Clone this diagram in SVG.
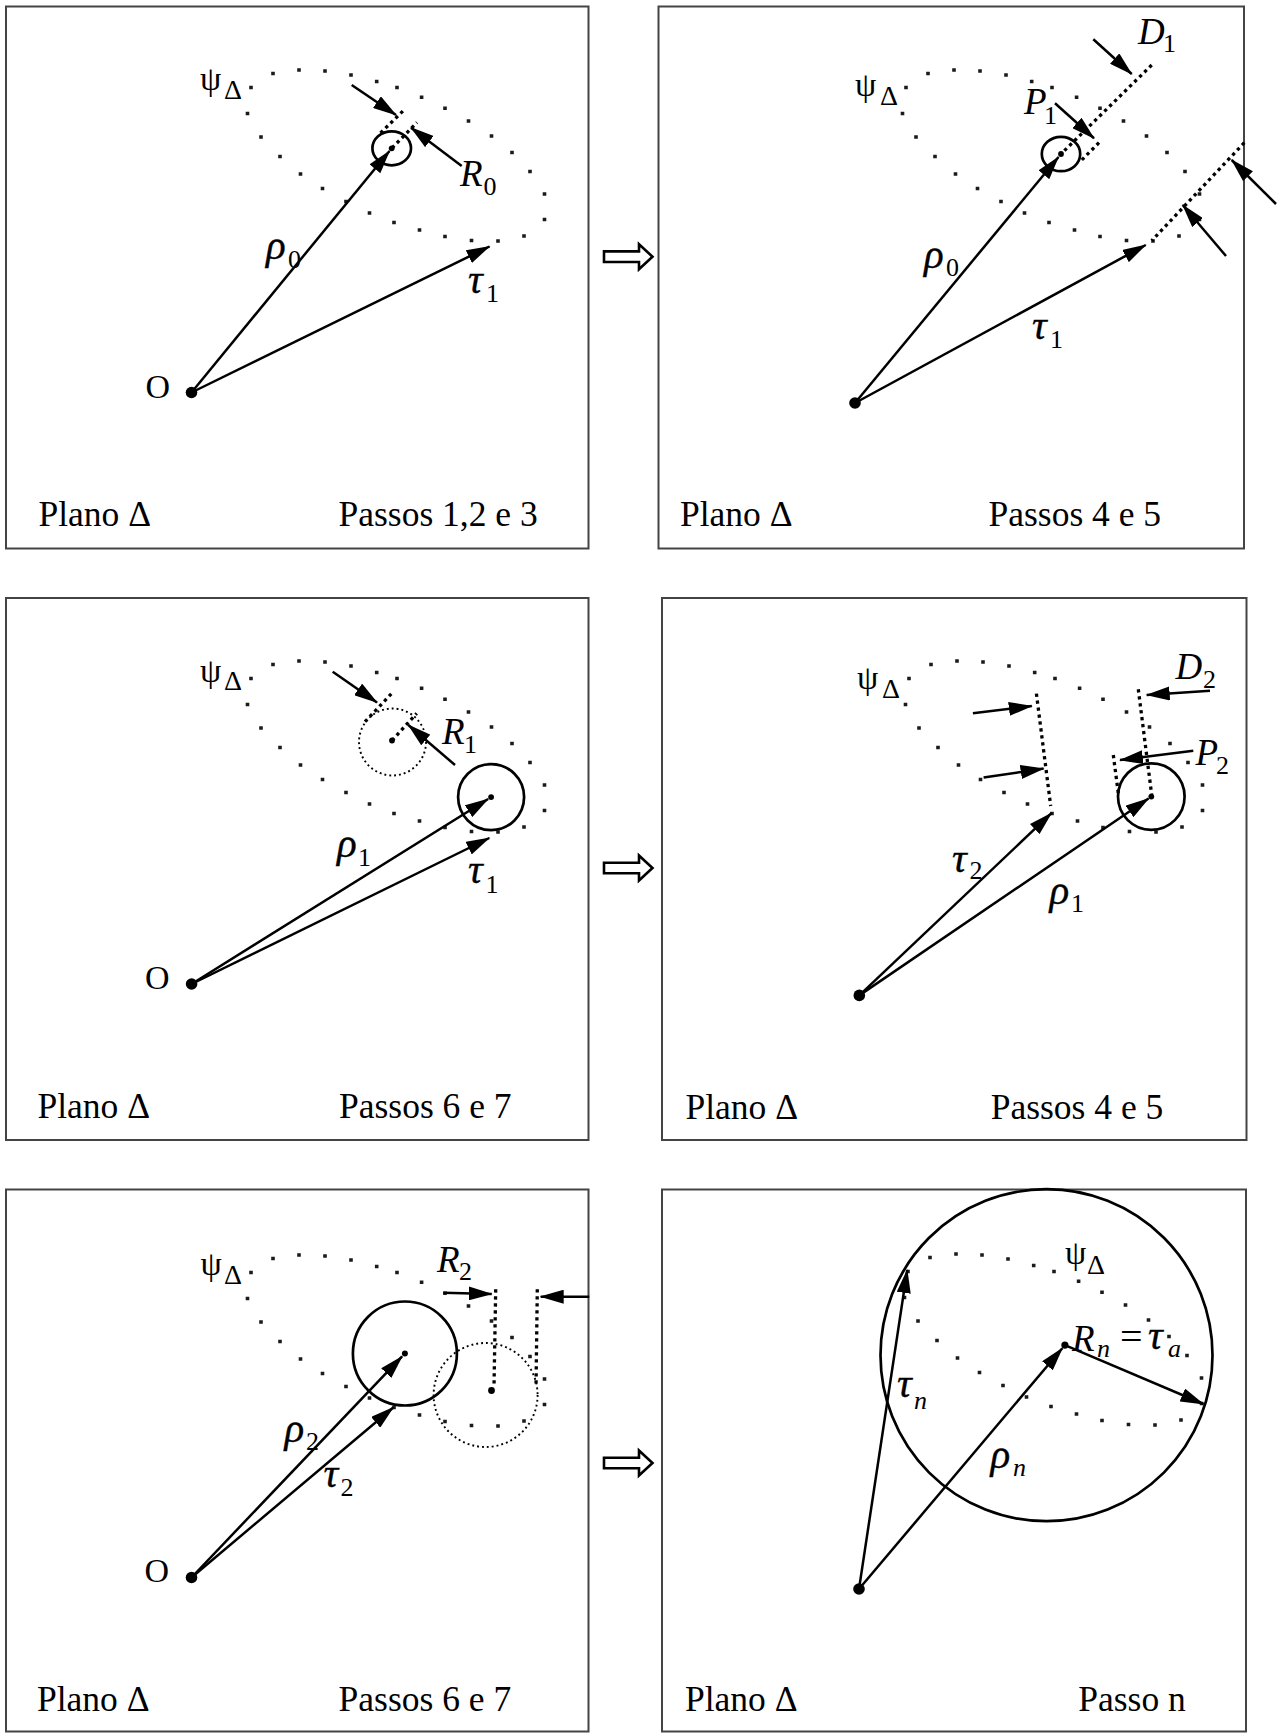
<svg xmlns="http://www.w3.org/2000/svg" width="1278" height="1733" viewBox="0 0 1278 1733">
<style>
.frame{fill:none;stroke:#444;stroke-width:2}
.vec{fill:none;stroke:#000;stroke-width:2.5;marker-end:url(#ah)}
.circ{fill:none;stroke:#000;stroke-width:2.7}
.dcirc{fill:none;stroke:#000;stroke-width:1.9;stroke-dasharray:1.9 3}
.dl{fill:none;stroke:#000;stroke-width:3.3;stroke-dasharray:3.3 3.7}
.dot{fill:#000}
.psi{fill:#1a1a1a}
text{font-family:"Liberation Serif","Times New Roman",serif;fill:#000}
.cap{font-size:35.5px}
.o{font-size:34px}
.it{font-size:37px;font-style:italic}
.gr{font-size:41px;font-style:italic;stroke:#000;stroke-width:0.35}
.sub{font-size:26px;font-style:normal;stroke:none}
.subi{font-size:26px;font-style:italic;stroke:none}
.ps{font-size:34px;font-style:normal}
.dd{font-size:28px;font-style:normal}
.eq{font-size:40px;font-style:normal;stroke:none}
.hollow{fill:#fff;stroke:#000;stroke-width:2.6;stroke-linejoin:miter}
</style>
<defs>
<marker id="ah" viewBox="0 0 24 14" refX="23" refY="7" markerWidth="24" markerHeight="14" markerUnits="userSpaceOnUse" orient="auto">
<path d="M0,0 L24,7 L0,14 Z" fill="#000"/>
</marker>
<path id="psi" class="psi" d="M249.2,85.7h3.6v3.6h-3.6z M271.2,71.7h3.6v3.6h-3.6z M297.2,68.2h3.6v3.6h-3.6z M323.2,69.2h3.6v3.6h-3.6z M349.2,73.2h3.6v3.6h-3.6z M374.9,79.7h3.6v3.6h-3.6z M395.2,85.7h3.6v3.6h-3.6z M419.8,95.5h3.6v3.6h-3.6z M443.2,106.5h3.6v3.6h-3.6z M466.7,119.2h3.6v3.6h-3.6z M489.7,134.2h3.6v3.6h-3.6z M510.2,150.7h3.6v3.6h-3.6z M528.2,169.7h3.6v3.6h-3.6z M542.7,192.2h3.6v3.6h-3.6z M542.7,217.7h3.6v3.6h-3.6z M522.2,234.2h3.6v3.6h-3.6z M496.2,239.2h3.6v3.6h-3.6z M469.7,238.7h3.6v3.6h-3.6z M443.2,234.7h3.6v3.6h-3.6z M417.7,228.2h3.6v3.6h-3.6z M392.2,220.7h3.6v3.6h-3.6z M367.7,211.2h3.6v3.6h-3.6z M344.2,199.7h3.6v3.6h-3.6z M320.7,186.7h3.6v3.6h-3.6z M298.7,172.2h3.6v3.6h-3.6z M278.2,154.7h3.6v3.6h-3.6z M259.2,135.2h3.6v3.6h-3.6z M245.7,111.7h3.6v3.6h-3.6z"/>
</defs>
<rect width="1278" height="1733" fill="#fff"/>

<g id="panel1">
<rect class="frame" x="6" y="6.5" width="582.5" height="542"/>
<use href="#psi"/>
<text class="ps" x="200" y="90">ψ</text><text class="dd" x="224" y="98.5">Δ</text>
<ellipse class="circ" cx="391.7" cy="148.3" rx="19.3" ry="17"/>
<circle class="dot" cx="391.7" cy="148.3" r="2.9"/>
<line class="dl" x1="380.5" y1="133" x2="404" y2="110"/>
<line class="dl" x1="392" y1="148" x2="417" y2="122.5"/>
<line class="vec" x1="351.7" y1="85" x2="396" y2="115"/>
<line class="vec" x1="461.7" y1="166" x2="411" y2="127.7"/>
<line class="vec" x1="191.5" y1="392.5" x2="389.5" y2="151"/>
<line class="vec" x1="191.5" y1="392.5" x2="489.5" y2="246.5"/>
<circle class="dot" cx="191.5" cy="392.5" r="5.8"/>
<text class="o" x="145.5" y="397.5">O</text>
<text class="it"><tspan x="460" y="186">R</tspan><tspan class="sub" x="483.5" y="195">0</tspan></text>
<text class="gr"><tspan x="468" y="293">τ</tspan><tspan class="sub" x="486" y="302">1</tspan></text>
<text class="gr"><tspan x="266" y="259">ρ</tspan><tspan class="sub" x="288" y="268">0</tspan></text>
<text class="cap" x="38.5" y="526">Plano Δ</text>
<text class="cap" x="338.5" y="526">Passos 1,2 e 3</text>
</g>

<g id="panel2">
<rect class="frame" x="658.5" y="6.5" width="585.5" height="542"/>
<use href="#psi" transform="translate(655,0)"/>
<text class="ps" x="855" y="96">ψ</text><text class="dd" x="880" y="104.5">Δ</text>
<ellipse class="circ" cx="1061" cy="154" rx="19.2" ry="17.2"/>
<circle class="dot" cx="1061" cy="154" r="2.9"/>
<line class="dl" x1="1151.7" y1="65" x2="1063" y2="152"/>
<line class="dl" x1="1099" y1="142.7" x2="1080" y2="161.7"/>
<line class="dl" x1="1244.3" y1="142.7" x2="1151.7" y2="240.7"/>
<line class="vec" x1="1093.3" y1="39.3" x2="1131.7" y2="74"/>
<line class="vec" x1="1055" y1="103.3" x2="1094" y2="138.3"/>
<line class="vec" x1="1276" y1="204" x2="1231.7" y2="160"/>
<line class="vec" x1="1226" y1="256" x2="1182.7" y2="205"/>
<line class="vec" x1="855" y1="403" x2="1058.5" y2="157"/>
<line class="vec" x1="855" y1="403" x2="1145.7" y2="245"/>
<circle class="dot" cx="855" cy="403" r="5.8"/>
<text class="it"><tspan x="1138" y="43.5">D</tspan><tspan class="sub" x="1163" y="52">1</tspan></text>
<text class="it"><tspan x="1024" y="114">P</tspan><tspan class="sub" x="1044" y="124">1</tspan></text>
<text class="gr"><tspan x="924" y="268">ρ</tspan><tspan class="sub" x="946" y="276">0</tspan></text>
<text class="gr"><tspan x="1032" y="339">τ</tspan><tspan class="sub" x="1050" y="348">1</tspan></text>
<text class="cap" x="680" y="526">Plano Δ</text>
<text class="cap" x="988.5" y="526">Passos 4 e 5</text>
</g>

<g id="panel3">
<rect class="frame" x="6" y="598" width="582.5" height="542"/>
<use href="#psi" transform="translate(0,591)"/>
<text class="ps" x="200" y="682">ψ</text><text class="dd" x="224" y="690">Δ</text>
<circle class="dcirc" cx="392.5" cy="742" r="33.5"/>
<circle class="dot" cx="392" cy="740.5" r="2.9"/>
<line class="dl" x1="365" y1="721.7" x2="393.3" y2="691.7"/>
<line class="dl" x1="392" y1="740.5" x2="416.7" y2="713.3"/>
<line class="vec" x1="332.7" y1="671.7" x2="377" y2="702.5"/>
<line class="vec" x1="455" y1="765" x2="408.3" y2="725"/>
<circle class="circ" cx="491.1" cy="797.1" r="33"/>
<circle class="dot" cx="491.1" cy="797.1" r="2.9"/>
<line class="vec" x1="191.6" y1="984" x2="488.1" y2="799"/>
<line class="vec" x1="191.6" y1="984" x2="489.3" y2="838"/>
<circle class="dot" cx="191.6" cy="984" r="5.8"/>
<text class="o" x="145" y="989">O</text>
<text class="it"><tspan x="442" y="743.5">R</tspan><tspan class="sub" x="464" y="752.5">1</tspan></text>
<text class="gr"><tspan x="337" y="857">ρ</tspan><tspan class="sub" x="358" y="866">1</tspan></text>
<text class="gr"><tspan x="468" y="883">τ</tspan><tspan class="sub" x="485.5" y="893">1</tspan></text>
<text class="cap" x="37.5" y="1118">Plano Δ</text>
<text class="cap" x="339" y="1118">Passos 6 e 7</text>
</g>

<g id="panel4">
<rect class="frame" x="662" y="598" width="584.5" height="542"/>
<use href="#psi" transform="translate(658,591)"/>
<text class="ps" x="857" y="689">ψ</text><text class="dd" x="882" y="697.5">Δ</text>
<line class="dl" x1="1036.4" y1="693.6" x2="1050.7" y2="806"/>
<line class="dl" x1="1138.3" y1="689.3" x2="1151.7" y2="795"/>
<line class="dl" x1="1113.3" y1="755" x2="1118.3" y2="793.3"/>
<line class="vec" x1="972.9" y1="713.2" x2="1031.8" y2="706.1"/>
<line class="vec" x1="983.6" y1="777.5" x2="1043.6" y2="768.6"/>
<line class="vec" x1="1210" y1="690.7" x2="1146.7" y2="695"/>
<line class="vec" x1="1193.3" y1="750.7" x2="1120" y2="760"/>
<circle class="circ" cx="1151.3" cy="796.6" r="33.3"/>
<circle class="dot" cx="1151.3" cy="796.6" r="2.9"/>
<line class="vec" x1="859.3" y1="995.4" x2="1148.5" y2="798.5"/>
<line class="vec" x1="859.3" y1="995.4" x2="1051.4" y2="813.2"/>
<circle class="dot" cx="859.3" cy="995.4" r="5.8"/>
<text class="it"><tspan x="1175.5" y="678.5">D</tspan><tspan class="sub" x="1203" y="688">2</tspan></text>
<text class="it"><tspan x="1195.5" y="765">P</tspan><tspan class="sub" x="1216" y="773.5">2</tspan></text>
<text class="gr"><tspan x="952" y="872">τ</tspan><tspan class="sub" x="969.5" y="879">2</tspan></text>
<text class="gr"><tspan x="1049.5" y="904">ρ</tspan><tspan class="sub" x="1071" y="911.5">1</tspan></text>
<text class="cap" x="685.5" y="1118.5">Plano Δ</text>
<text class="cap" x="990.7" y="1118.5">Passos 4 e 5</text>
</g>

<g id="panel5">
<rect class="frame" x="6" y="1189.5" width="582.5" height="542"/>
<use href="#psi" transform="translate(0,1185)"/>
<text class="ps" x="200.5" y="1275">ψ</text><text class="dd" x="224" y="1283.5">Δ</text>
<circle class="circ" cx="404.9" cy="1353.5" r="52"/>
<circle class="dot" cx="404.9" cy="1353.5" r="3"/>
<circle class="dcirc" cx="485.6" cy="1395" r="52"/>
<circle class="dot" cx="491.5" cy="1390.5" r="3.4"/>
<line class="dl" x1="495.7" y1="1289.3" x2="494" y2="1387"/>
<line class="dl" x1="537.3" y1="1289.3" x2="536" y2="1387"/>
<line class="vec" x1="443.3" y1="1292.7" x2="491.7" y2="1294"/>
<line class="vec" x1="589.3" y1="1296.7" x2="540.7" y2="1296.7"/>
<line class="vec" x1="191.5" y1="1577.5" x2="402.1" y2="1356.4"/>
<line class="vec" x1="191.5" y1="1577.5" x2="393.3" y2="1407.5"/>
<circle class="dot" cx="191.5" cy="1577.5" r="5.8"/>
<text class="o" x="144.5" y="1582">O</text>
<text class="it"><tspan x="437" y="1271.7">R</tspan><tspan class="sub" x="459" y="1280">2</tspan></text>
<text class="gr"><tspan x="284.5" y="1442">ρ</tspan><tspan class="sub" x="306" y="1450">2</tspan></text>
<text class="gr"><tspan x="323.5" y="1487">τ</tspan><tspan class="sub" x="340.5" y="1495.5">2</tspan></text>
<text class="cap" x="37" y="1711">Plano Δ</text>
<text class="cap" x="338.6" y="1711">Passos 6 e 7</text>
</g>

<g id="panel6">
<rect class="frame" x="662" y="1189.5" width="584" height="542"/>
<use href="#psi" transform="translate(657,1184)"/>
<text class="ps" x="1065" y="1264">ψ</text><text class="dd" x="1087" y="1273.5">Δ</text>
<circle class="circ" cx="1046.5" cy="1355.2" r="166"/>
<line class="vec" x1="859" y1="1589" x2="907.2" y2="1270"/>
<line class="vec" x1="859" y1="1589" x2="1062.3" y2="1348.2"/>
<line class="vec" x1="1064.9" y1="1345.1" x2="1203.5" y2="1404"/>
<circle class="dot" cx="1064.9" cy="1345.1" r="3.6"/>
<circle class="dot" cx="859" cy="1589" r="5.8"/>
<text class="it"><tspan x="1072" y="1351">R</tspan><tspan class="subi" x="1097" y="1357">n</tspan><tspan class="eq" x="1120" y="1350">=</tspan><tspan class="gr" x="1148" y="1349">τ</tspan><tspan class="subi" x="1168" y="1357">a</tspan></text>
<text class="gr"><tspan x="897" y="1397">τ</tspan><tspan class="subi" x="914" y="1409">n</tspan></text>
<text class="gr"><tspan x="990.5" y="1468">ρ</tspan><tspan class="subi" x="1013" y="1476">n</tspan></text>
<text class="cap" x="685" y="1711">Plano Δ</text>
<text class="cap" x="1078.3" y="1711">Passo n</text>
</g>

<g id="connectors">
<path class="hollow" d="M604,251.4 L639,251.4 L639,244.2 L652.5,256.7 L639,269.2 L639,262 L604,262 Z"/>
<path class="hollow" d="M604,862.7 L639,862.7 L639,855.5 L652.5,868 L639,880.5 L639,873.3 L604,873.3 Z"/>
<path class="hollow" d="M604,1457.7 L639,1457.7 L639,1450.5 L652.5,1463 L639,1475.5 L639,1468.3 L604,1468.3 Z"/>
</g>
</svg>
